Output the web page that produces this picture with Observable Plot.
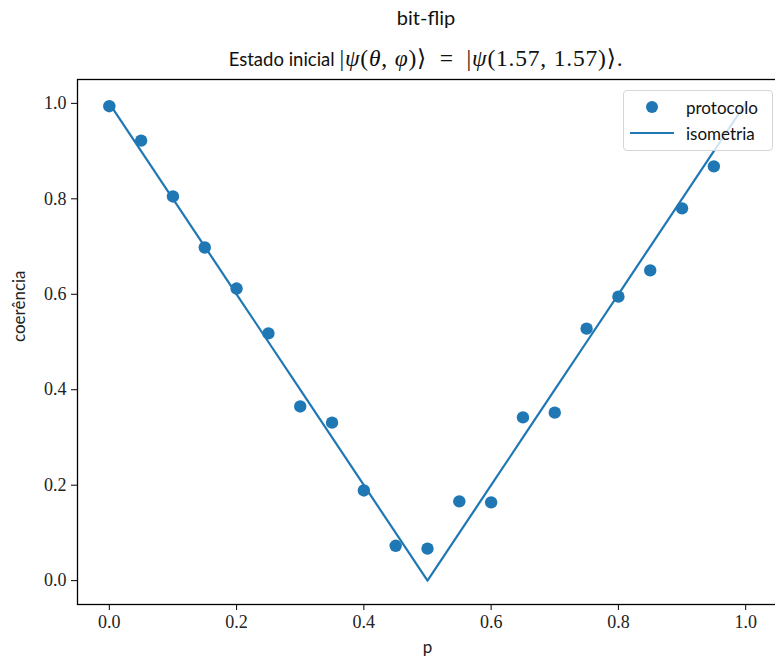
<!DOCTYPE html>
<html>
<head>
<meta charset="utf-8">
<script src="https://cdn.jsdelivr.net/npm/d3@7"></script>
<script src="https://cdn.jsdelivr.net/npm/@observablehq/plot@0.6"></script>
<style>
  body { margin: 0; background: #fff; }
  #wrap { position: relative; width: 775px; height: 664px; }
  .hdr { position: absolute; left: 77px; width: 698px; text-align: center; color: #111; white-space: nowrap; }
  #title { top: 5px; font: 20px Lato, sans-serif; }
  #subtitle { top: 44px; font: 18.5px Lato, sans-serif; }
  .m { font-family: "Liberation Serif", "DejaVu Serif", serif; font-size: 23.5px; letter-spacing: 0.8px; }
  .mi { font-style: italic; }
  .sp { display: inline-block; width: 6px; }
  #legend { position: absolute; left: 623px; top: 90px; width: 148px; height: 59px;
    border: 1px solid #d6d6d6; border-radius: 4px; background: rgba(255,255,255,0.8);
    font: 17px Lato, sans-serif; color: #111; }
  #legend .row { position: absolute; left: 0; height: 26px; display: flex; align-items: center; }
  #legend svg { margin-left: 6px; margin-right: 12px; }
</style>
</head>
<body>
<div id="wrap">
  <div class="hdr" id="title">bit-flip</div>
  <div class="hdr" id="subtitle">Estado inicial <span class="m">|<span class="mi">ψ</span>(<span class="mi">θ</span>, <span class="mi">φ</span>)⟩<span class="sp"></span> = <span class="sp"></span>|<span class="mi">ψ</span>(1.57, 1.57)⟩.</span></div>
  <div id="chart" style="position:absolute;left:0;top:77px;"></div>
  <div id="legend">
    <div class="row" style="top:3px"><svg width="44" height="14"><circle cx="22" cy="7" r="6" fill="#1f77b4"/></svg>protocolo</div>
    <div class="row" style="top:29px"><svg width="44" height="14"><line x1="0" x2="44" y1="7" y2="7" stroke="#1f77b4" stroke-width="2.2"/></svg>isometria</div>
  </div>
</div>
<script>
// Bit-flip channel: coherence measured by the protocol vs. the isometry prediction
const p = [0.00, 0.05, 0.10, 0.15, 0.20, 0.25, 0.30, 0.35, 0.40, 0.45,
           0.50, 0.55, 0.60, 0.65, 0.70, 0.75, 0.80, 0.85, 0.90, 0.95];
const protocolo = [0.994, 0.922, 0.805, 0.698, 0.612, 0.518, 0.365, 0.331, 0.189, 0.073,
                   0.067, 0.166, 0.164, 0.342, 0.352, 0.528, 0.595, 0.650, 0.780, 0.868];

const pIso = [0.00, 0.05, 0.10, 0.15, 0.20, 0.25, 0.30, 0.35, 0.40, 0.45, 0.50,
              0.55, 0.60, 0.65, 0.70, 0.75, 0.80, 0.85, 0.90, 0.95, 1.00];
const isometria = [1.0, 0.9, 0.8, 0.7, 0.6, 0.5, 0.4, 0.3, 0.2, 0.1, 0.0,
                   0.1, 0.2, 0.3, 0.4, 0.5, 0.6, 0.7, 0.8, 0.9, 1.0];

const ticks = [0.0, 0.2, 0.4, 0.6, 0.8, 1.0];
const xLabel = "p";
const yLabel = "coerência";

const pts = p.map((v, i) => ({p: v, c: protocolo[i]}));
const iso = pIso.map((v, i) => ({p: v, c: isometria[i]}));

const blue = "#1f77b4";
const serif = "'Liberation Serif', 'DejaVu Serif', serif";

const chart = Plot.plot({
  width: 775,
  height: 587,
  marginTop: 2,
  marginBottom: 60,
  marginLeft: 77,
  marginRight: -2,
  x: {domain: [-0.05, 1.05]},
  y: {domain: [-0.05, 1.05]},
  marks: [
    Plot.line(iso, {x: "p", y: "c", stroke: blue, strokeWidth: 2.2}),
    Plot.dot(pts, {x: "p", y: "c", r: 6.2, fill: blue, stroke: "none"}),
    Plot.frame({stroke: "#000", strokeWidth: 1.3}),
    Plot.axisX({ticks, tickSize: 6, tickPadding: 5, tickFormat: d3.format(".1f"),
      fontSize: 18, fontFamily: serif, label: null, stroke: "#000", color: "#222"}),
    Plot.axisY({ticks, tickSize: 6, tickPadding: 5, tickFormat: d3.format(".1f"),
      fontSize: 18, fontFamily: serif, label: null, stroke: "#000", color: "#222"}),
    Plot.text([xLabel], {text: d => d, frameAnchor: "bottom", dy: 48,
      fontSize: 17, fontFamily: "Lato, sans-serif", fill: "#222"}),
    Plot.text([yLabel], {text: d => d, frameAnchor: "left", dx: -58, rotate: -90,
      fontSize: 17, fontFamily: "Lato, sans-serif", fill: "#222"})
  ]
});
document.getElementById("chart").appendChild(chart);
</script>
</body>
</html>
